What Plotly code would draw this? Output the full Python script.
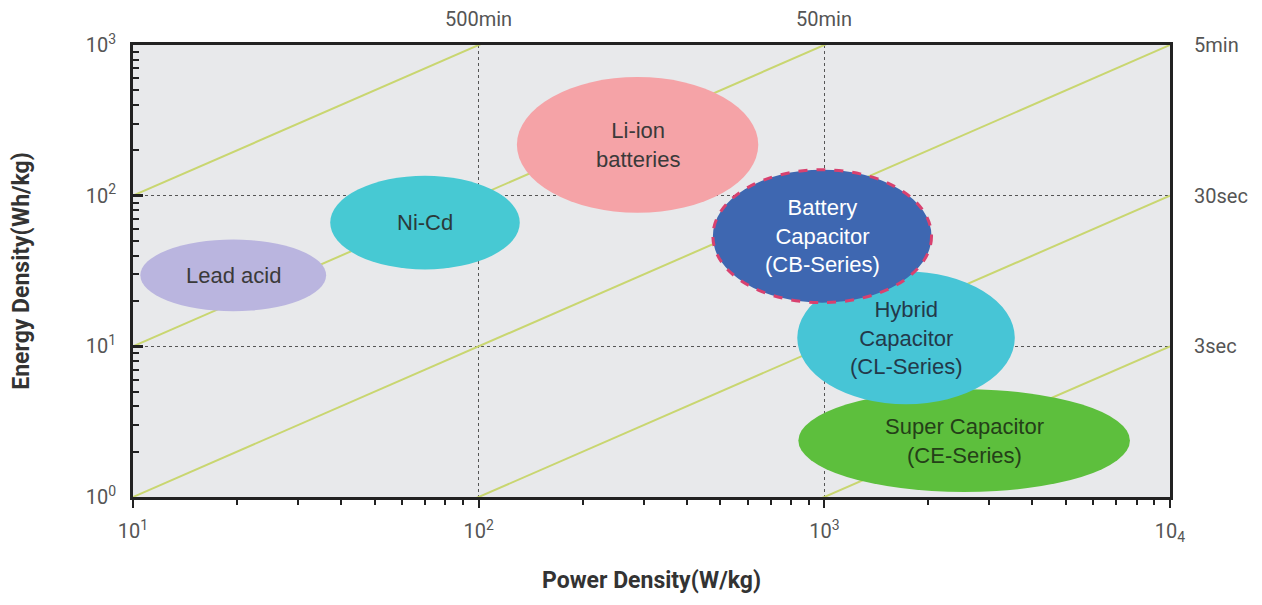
import numpy as np
import plotly.graph_objects as go

# ---- data ----
tech_names = ["Lead acid", "Ni-Cd", "Li-ion<br>batteries", "Super Capacitor<br>(CE-Series)",
              "Hybrid<br>Capacitor<br>(CL-Series)", "Battery<br>Capacitor<br>(CB-Series)"]
power_min = [10.5, 37.2, 129, 841, 835, 476]        # W/kg
power_max = [36.2, 131.5, 644, 7658, 3557, 2042]
energy_min = [17.1, 32.4, 77.1, 1.08, 4.13, 19.5]   # Wh/kg
energy_max = [51.2, 135.5, 613, 5.19, 31.4, 148.6]
fill_colors = ["#bab5df", "#47c9d3", "#f5a3a7", "#5dbf3d", "#47c5d6", "#3e67b1"]
text_colors = ["#3a3a3a", "#2b3a3a", "#3a3a3a", "#244018", "#23394a", "#ffffff"]

# discharge-time lines: E/P ratio in hours
time_ratio_h = [10, 1, 0.1, 0.01, 0.001]
top_labels = ["500min", "50min"]
top_label_power = [100, 1000]
right_labels = ["5min", "30sec", "3sec"]
right_label_energy = [1000, 100, 10]

x_tickvals = [10, 100, 1000, 10000]
x_ticktext = ["10<sup>1</sup>", "10<sup>2</sup>", "10<sup>3</sup>", "10<sub>4</sub>"]
y_tickvals = [1, 10, 100, 1000]
y_ticktext = ["10<sup>0</sup>", "10<sup>1</sup>", "10<sup>2</sup>", "10<sup>3</sup>"]

fig = go.Figure()

# diagonal lines
xs = np.array([10, 10000], dtype=float)
for r in time_ratio_h:
    fig.add_trace(go.Scatter(x=xs, y=r * xs, mode="lines",
                             line=dict(color="#c9d670", width=2),
                             hoverinfo="skip", showlegend=False))

# ellipses
shapes = []
annotations = []
for i, name in enumerate(tech_names):
    is_cb = "CB" in name
    shapes.append(dict(type="circle", xref="x", yref="y",
                       x0=power_min[i], x1=power_max[i], y0=energy_min[i], y1=energy_max[i],
                       fillcolor=fill_colors[i],
                       line=dict(color="#d8416f" if is_cb else fill_colors[i],
                                 width=3 if is_cb else 0, dash="dash" if is_cb else "solid"),
                       layer="above"))
    cx = (np.log10(power_min[i]) + np.log10(power_max[i])) / 2
    cy = (np.log10(energy_min[i]) + np.log10(energy_max[i])) / 2
    annotations.append(dict(x=cx, y=cy, xref="x", yref="y", text=name, showarrow=False,
                            font=dict(family="Liberation Sans, Arial", size=22, color=text_colors[i]),
                            align="center"))

for lab, p in zip(top_labels, top_label_power):
    annotations.append(dict(x=np.log10(p), y=1, xref="x", yref="paper",
                            yanchor="bottom", yshift=12,
                            text=lab, showarrow=False,
                            font=dict(family="Roboto", size=20, color="#555")))
for lab, e in zip(right_labels, right_label_energy):
    annotations.append(dict(x=1, y=np.log10(e), xref="paper", yref="y", xanchor="left", xshift=22,
                            text=lab, showarrow=False,
                            font=dict(family="Roboto", size=20, color="#555")))

minor_vals = [m * 10 ** k for k in range(0, 4) for m in range(2, 10)]

fig.update_layout(
    width=1246, height=589,
    margin=dict(l=125, r=84, t=37, b=100),
    paper_bgcolor="white", plot_bgcolor="#e8e9eb",
    shapes=shapes, annotations=annotations,
    showlegend=False,
    xaxis=dict(type="log", range=[1, 4], tickvals=x_tickvals, ticktext=x_ticktext,
               automargin=False,
               showline=True, mirror=True, linecolor="#222", linewidth=3,
               ticks="outside", ticklen=8, tickwidth=2, tickcolor="#222",
               showgrid=True, gridcolor="#555", griddash="dot", gridwidth=1,
               minor=dict(tickvals=minor_vals, ticks="outside", ticklen=5, tickwidth=2,
                          tickcolor="#222", showgrid=False),
               tickfont=dict(family="Roboto", size=20, color="#555"),
               ticklabelstandoff=6,
               title=dict(text="<b>Power Density(W/kg)</b>", standoff=28,
                          font=dict(family="Roboto", size=23, color="#333")),
               zeroline=False),
    yaxis=dict(type="log", range=[0, 3], tickvals=y_tickvals, ticktext=y_ticktext,
               automargin=False,
               showline=True, mirror=True, linecolor="#222", linewidth=3,
               ticks="inside", ticklen=10, tickwidth=3, tickcolor="#222",
               showgrid=True, gridcolor="#555", griddash="dot", gridwidth=1,
               minor=dict(tickvals=minor_vals, ticks="inside", ticklen=6, tickwidth=2,
                          tickcolor="#222", showgrid=False),
               tickfont=dict(family="Roboto", size=20, color="#555"),
               ticklabelstandoff=10,
               title=dict(text="<b>Energy Density(Wh/kg)</b>", standoff=50,
                          font=dict(family="Roboto", size=23, color="#333")),
               zeroline=False),
)

fig.write_html("out.html")
